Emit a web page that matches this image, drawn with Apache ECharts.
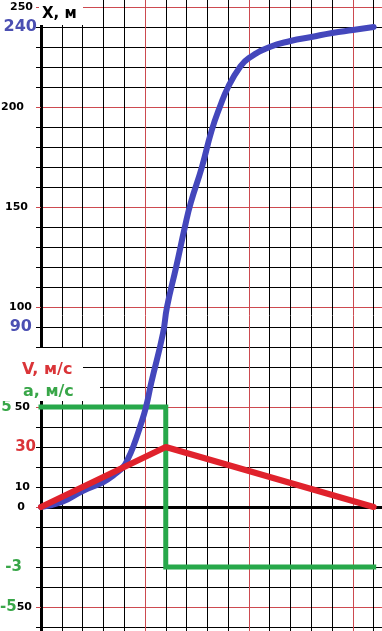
<!DOCTYPE html>
<html><head><meta charset="utf-8">
<script src="https://cdn.jsdelivr.net/npm/echarts@6/dist/echarts.min.js"></script>
<style>html,body{margin:0;padding:0;background:#fff}#c{width:382px;height:631px}</style>
</head><body><div id="c"></div>
<script>
// ---- data ----
const posTime = [0, 1, 2, 3, 3.5, 3.95, 4.2, 4.43, 4.76, 5.05, 5.3, 5.87, 6.06, 6.5, 6.92, 7.2, 7.74, 8.2, 8.6, 9, 9.57, 10, 11, 12, 13, 14, 15, 16];
const posX    = [0, 2.5, 8, 12.5, 16, 20, 24.5, 30, 40, 50, 62, 87, 100, 120, 140, 152, 170, 188, 200, 210, 220, 224.5, 230, 233, 235, 237, 238.5, 240];
const velTime = [0, 6, 16];
const velV    = [0, 30, 0];
const accTime = [0, 6, 6, 16];
const accA    = [5, 5, -3, -3];
const accScale = 10;               // a is drawn at 10x on the shared axis
const xTickLabels = [1, 5, 10, 15];
const yTickValues = [250, 200, 150, 100, 50, 10, 0, -50];
const yTickTexts  = ['250', '200', '150', '100', '50', '10', '0', '50'];
const posMarks = [240, 90];
const velMarks = [30];
const accMarks = [5, -3, -5];
// grid-line positions (grid cells: 1 s and 10 units; red every 5 s / 50 units)
const xGridTicks = ['0','1','2','3','4','5','6','7','8','9','10','11','12','13','14','15','16'];
const yGridTicks = ['-60','-50','-40','-30','-20','-10','0','10','20','30','40','50','60','70','80','90','100',
                    '110','120','130','140','150','160','170','180','190','200','210','220','230','240','250'];
const xMajorStep = 5, yMajorStep = 50;

// ---- styling / layout ----
const BLUE = '#4447bc', RED = '#e0222c', GREEN = '#27a84a';
const BLUE_T = '#4b4fb2', RED_T = '#da3438', GREEN_T = '#38a648';
const GRIDRED = '#cc4a50';
const FONT = '"DejaVu Sans", Verdana, sans-serif';
const labelPad = {250: 4, 240: 0, 200: 13, 150: 9, 100: 5, 90: 5, 50: 7, 30: 1, 10: 7, 0: 12, '-30': 15, '-50': 5};
const accGap = {50: 3, '-50': 0};

const rich = {
  k: {color: '#000', fontFamily: FONT, fontWeight: 'bold', fontSize: 11},
  b: {color: BLUE_T, fontFamily: FONT, fontWeight: 'bold', fontSize: 16},
  r: {color: RED_T, fontFamily: FONT, fontWeight: 'bold', fontSize: 15},
  g: {color: GREEN_T, fontFamily: FONT, fontWeight: 'bold', fontSize: 15}
};
for (let i = 0; i <= 16; i++) rich['p' + i] = {width: i, fontSize: 11};

function yLabel(v) {
  const parts = [];
  const a = Math.round(v / accScale * 100) / 100;
  if (v % accScale === 0 && accMarks.includes(a)) {
    parts.push('{g|' + a + '}');
    const gp = accGap[v] || 0;
    if (gp) parts.push('{p' + gp + '|\u00a0}');
  }
  if (posMarks.includes(v)) parts.push('{b|' + v + '}');
  if (velMarks.includes(v)) parts.push('{r|' + v + '}');
  const idx = yTickValues.indexOf(v);
  if (idx >= 0) parts.push('{k|' + yTickTexts[idx] + '}');
  if (!parts.length) return '';
  const p = labelPad[v] || 0;
  if (p) parts.push('{p' + p + '|\u00a0}');
  return parts.join('');
}

const isMajorX = (i, v) => Number(v) % xMajorStep === 0;
const isMajorY = (i, v) => Number(v) % yMajorStep === 0;
const hidden = {axisLine: {show: false}, axisTick: {show: false}, axisLabel: {show: false}};

// x of t=16 in pixels is 41 + 16*(341/16.4)
const gridRightX = 382 - (41 + 16 * 341 / 16.4);

const chart = echarts.init(document.getElementById('c'), null, {renderer: 'canvas'});
chart.setOption({
  animation: false,
  backgroundColor: '#fff',
  grid: [
    {left: 41, right: gridRightX, top: 0, bottom: 0, outerBoundsMode: 'none', containLabel: false},
    {left: 41, right: 0, top: 7, bottom: 4, outerBoundsMode: 'none', containLabel: false}
  ],
  xAxis: [
    // vertical grid lines: black minor, red major (no overlap)
    Object.assign({gridIndex: 0, type: 'category', data: xGridTicks, boundaryGap: false,
      splitLine: {show: true, interval: (i, v) => !isMajorX(i, v), lineStyle: {color: '#000', width: 1}}}, hidden),
    Object.assign({gridIndex: 0, type: 'category', data: xGridTicks, boundaryGap: false,
      splitLine: {show: true, interval: (i, v) => isMajorX(i, v) && Number(v) > 0, lineStyle: {color: GRIDRED, width: 1}}}, hidden),
    {gridIndex: 1, type: 'value', min: 0, max: 16.4, interval: 1,
     axisLine: {show: true, onZero: true, onZeroAxisIndex: 1, lineStyle: {color: '#000', width: 3}},
     axisTick: {show: false}, splitLine: {show: false},
     axisLabel: {show: true, margin: 6, color: '#000', fontFamily: FONT, fontWeight: 'bold', fontSize: 12,
       formatter: v => xTickLabels.includes(v) ? String(v) : ''}}
  ],
  yAxis: [
    {gridIndex: 0, type: 'value', min: -62, max: 253.5, position: 'left',
     axisLine: {show: true, onZero: false, lineStyle: {color: '#000', width: 3}},
     axisTick: {show: false}, axisLabel: {show: false}, splitLine: {show: false}},
    {gridIndex: 1, type: 'value', min: -60, max: 250, interval: 10, position: 'left',
     axisLine: {show: false, onZero: false},
     axisTick: {show: true, length: 5, lineStyle: {color: '#000', width: 1}},
     splitLine: {show: false},
     axisLabel: {show: true, margin: 4, showMinLabel: true, showMaxLabel: true, formatter: yLabel, rich: rich}},
    // horizontal grid lines: black minor, red major (no overlap)
    {gridIndex: 1, type: 'category', data: yGridTicks, boundaryGap: false, position: 'left',
     axisLine: {show: false, onZero: false}, axisTick: {show: false}, axisLabel: {show: false},
     splitLine: {show: true, interval: (i, v) => !isMajorY(i, v), lineStyle: {color: '#000', width: 1}}},
    {gridIndex: 1, type: 'category', data: yGridTicks, boundaryGap: false, position: 'left',
     axisLine: {show: false, onZero: false}, axisLabel: {show: false},
     axisTick: {show: true, length: 5, interval: (i, v) => isMajorY(i, v), lineStyle: {color: GRIDRED, width: 1}},
     splitLine: {show: true, interval: (i, v) => isMajorY(i, v) && Number(v) !== 0, lineStyle: {color: GRIDRED, width: 1}}}
  ],
  series: [
    {type: 'line', xAxisIndex: 2, yAxisIndex: 1, symbol: 'none', z: 3,
     data: accTime.map((t, i) => [t, accA[i] * accScale]),
     lineStyle: {color: GREEN, width: 5, cap: 'square', join: 'miter'}},
    {type: 'line', xAxisIndex: 2, yAxisIndex: 1, symbol: 'none', z: 4, smooth: 0.5,
     data: posTime.map((t, i) => [t, posX[i]]),
     lineStyle: {color: BLUE, width: 6, cap: 'round'}},
    {type: 'line', xAxisIndex: 2, yAxisIndex: 1, symbol: 'none', z: 5,
     data: velTime.map((t, i) => [t, velV[i]]),
     lineStyle: {color: RED, width: 6, cap: 'round'}}
  ],
  graphic: [
    {type: 'rect', z: 50, shape: {x: 0, y: 348, width: 83, height: 38}, style: {fill: '#fff'}},
    {type: 'rect', z: 50, shape: {x: 0, y: 386, width: 100, height: 15}, style: {fill: '#fff'}},
    {type: 'rect', z: 50, shape: {x: 39, y: 0, width: 44, height: 25}, style: {fill: '#fff'}},
    {type: 'text', z: 51, x: 42, y: 14, style: {text: 'X, м', fill: '#000', font: 'bold 15px ' + FONT, verticalAlign: 'middle'}},
    {type: 'text', z: 51, x: 22, y: 370, style: {text: 'V, м/с', fill: RED_T, font: 'bold 16px ' + FONT, verticalAlign: 'middle'}},
    {type: 'text', z: 51, x: 23, y: 392, style: {text: 'a, м/с', fill: GREEN_T, font: 'bold 16px ' + FONT, verticalAlign: 'middle'}}
  ]
});
</script></body></html>
